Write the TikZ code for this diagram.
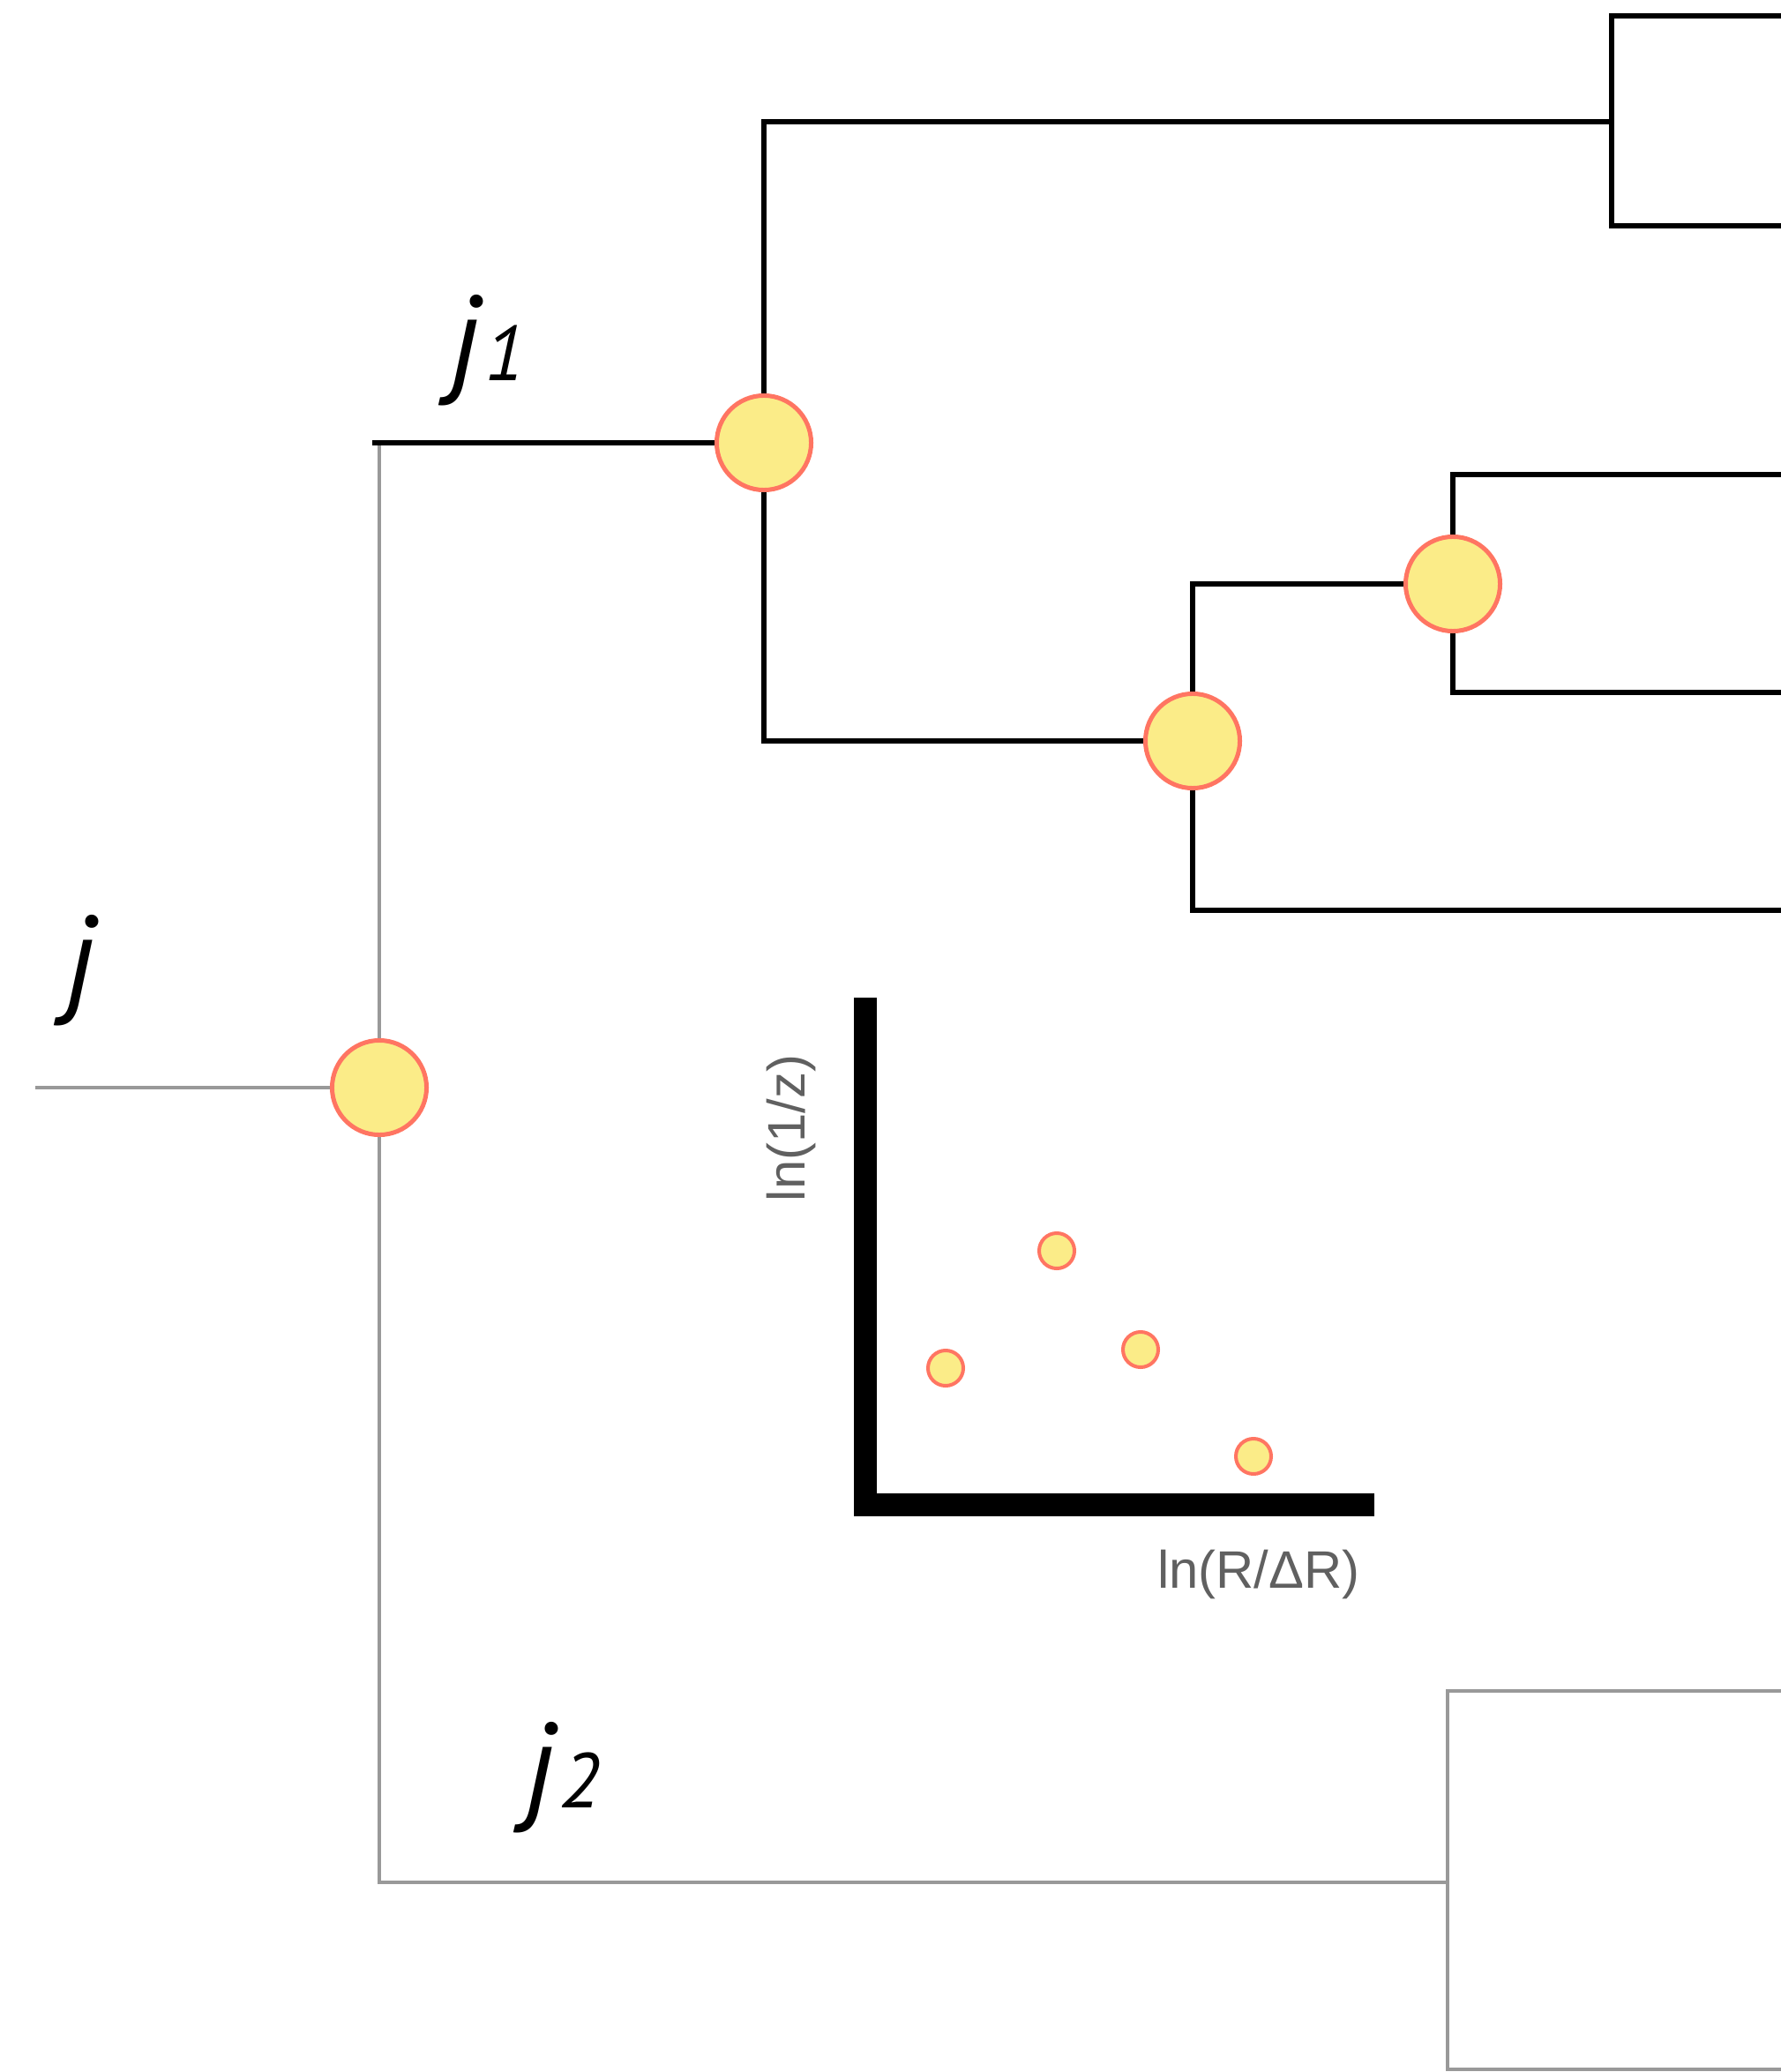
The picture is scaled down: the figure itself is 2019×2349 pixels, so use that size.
\documentclass[tikz,border=0pt]{standalone}
\usepackage{fontspec}
\usepackage{xcolor}
\usepackage{tikz}
\usetikzlibrary{positioning, calc}

\newfontfamily\jetfont{PT Sans}
\newfontfamily\axisfont{Liberation Sans}
\newcommand{\subl}[1]{\kern1.5pt{\fontsize{25}{27}\selectfont #1}}

\definecolor{mergefill}{HTML}{FBEC88}
\definecolor{mergeedge}{HTML}{FF7562}
\definecolor{softgray}{HTML}{999999}
\definecolor{labelgray}{HTML}{606060}

\begin{document}
\begin{tikzpicture}[
		x=0.01cm, y=-0.01cm,
		merge/.style={circle, draw=mergeedge, fill=mergefill, line width=1.42pt, minimum size=1.07cm, inner sep=0pt},
		point/.style={circle, draw=mergeedge, fill=mergefill, line width=1.14pt, minimum size=0.4cm, inner sep=0pt},
		branch/.style={line width=1.45pt, black},
		soft/.style={line width=1.3pt, softgray},
		axisbar/.style={line width=7.4pt, line cap=rect, line join=miter, black},
		axislabel/.style={font=\axisfont\fontsize{17}{20}\selectfont, text=labelgray, inner sep=0pt},
		jetlabel/.style={font=\jetfont\itshape\fontsize{39}{41}\selectfont, inner sep=0pt}
		]

		\useasboundingbox (0,0) rectangle (2019,2349);

		\node[merge] (root) at (430,1233) {};
		\node[merge] (sj1) at (866,502) {};
		\node[merge] (sa) at (1352,840) {};
		\node[merge] (sb) at (1647,662) {};

		\coordinate (in) at (40,1233);
		\coordinate (j1stub) at (422,502);
		\coordinate (j2fork) at (1641,2134);
		\coordinate (topfork) at (1827,138);
		\coordinate (leafA) at (2019,18);
		\coordinate (leafB) at (2019,256);
		\coordinate (leafC) at (2019,538);
		\coordinate (leafD) at (2019,785);
		\coordinate (leafE) at (2019,1032);
		\coordinate (leafF) at (2019,1917);
		\coordinate (leafG) at (2019,2346);

		\draw[soft] (in) -- (root);
		\draw[soft] (root) -- (root |- j1stub);
		\draw[soft] (root) |- (j2fork);
		\draw[soft] (leafF) -| (j2fork) |- (leafG);

		\draw[branch] (j1stub) -- (sj1);
		\draw[branch] (sj1) |- (topfork);
		\draw[branch] (leafA) -| (topfork) |- (leafB);
		\draw[branch] (sj1) |- (sa);
		\draw[branch] (sa) |- (sb);
		\draw[branch] (sa) |- (leafE);
		\draw[branch] (sb) |- (leafC);
		\draw[branch] (sb) |- (leafD);

		\node[jetlabel] (jlab) at (92,1100) {j};
		\node[jetlabel] (j1lab) at (553,397) {j\subl{1}};
		\node[jetlabel] (j2lab) at (638,2015) {j\subl{2}};

		\coordinate (ytip) at (981,1144);
		\coordinate (origin) at (981,1706);
		\coordinate (xtip) at (1545,1706);
		\draw[axisbar] (ytip) -- (origin) -- (xtip);

		\foreach \xx/\yy [count=\i] in {1072/1551, 1198/1418, 1293/1530, 1421/1651}
			\node[point] (p\i) at (\xx,\yy) {};

		\node[axislabel] (xlab) at (1427,1785) {ln(R/ΔR)};
		\node[axislabel, rotate=90] (ylab) at (897,1279) {ln(1/z)};
	\end{tikzpicture}
\end{document}
